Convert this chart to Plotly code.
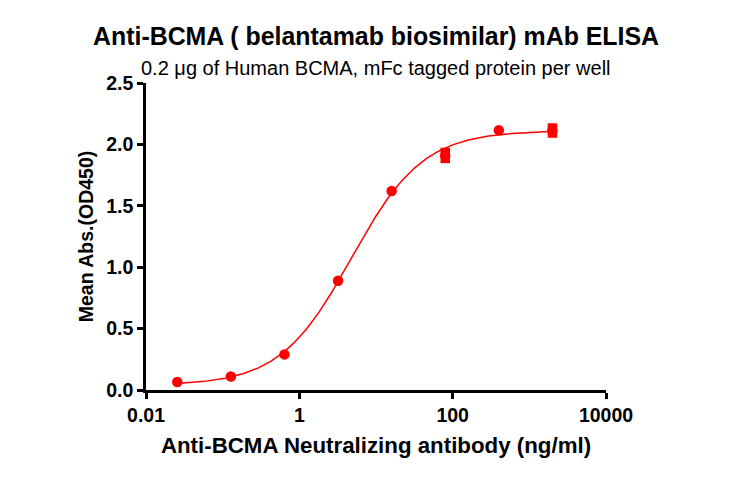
import numpy as np
import plotly.graph_objects as go

# Data (ng/ml, mean OD450 and SD of duplicates)
conc = [0.0256, 0.128, 0.64, 3.2, 16, 80, 400, 2000]
mean_od = [0.065, 0.11, 0.29, 0.89, 1.62, 1.91, 2.115, 2.113]
sd_od = [0, 0, 0, 0, 0, 0.063, 0, 0.059]
x_ticks = [0.01, 1, 100, 10000]
x_tick_labels = ["0.01", "1", "100", "10000"]
y_ticks = [0.0, 0.5, 1.0, 1.5, 2.0, 2.5]

# 4PL fit (grid search on EC50/Hill, linear least squares for bottom/top)
xs = np.array(conc)
ys = np.array(mean_od)
best = None
for logec in np.linspace(-1, 2, 301):
    for h in np.linspace(0.5, 2.5, 201):
        f = 1.0 / (1.0 + (10 ** logec / xs) ** h)
        A = np.vstack([np.ones_like(f), f]).T
        coef, *_ = np.linalg.lstsq(A, ys, rcond=None)
        sse = np.sum((A @ coef - ys) ** 2)
        if best is None or sse < best[0]:
            best = (sse, logec, h, coef)
_, logec, h, coef = best
xc = np.logspace(np.log10(conc[0]), np.log10(conc[-1]), 300)
yc = coef[0] + coef[1] / (1.0 + (10 ** logec / xc) ** h)

red = "#ff0000"
font = "Liberation Sans, Arial, sans-serif"

fig = go.Figure()
fig.add_trace(go.Scatter(x=xc, y=yc, mode="lines", line=dict(color=red, width=1.5),
                         hoverinfo="skip", showlegend=False))
fig.add_trace(go.Scatter(x=conc, y=mean_od, mode="markers",
                         marker=dict(color=red, size=10.5, symbol="circle"),
                         error_y=dict(type="data", array=sd_od, visible=True,
                                      color=red, thickness=9.5, width=0),
                         showlegend=False))

fig.update_layout(
    width=730, height=478,
    paper_bgcolor="white", plot_bgcolor="white",
    margin=dict(l=138, r=132, t=75, b=96),
    font=dict(family=font, color="black"),
)
fig.add_annotation(text="<b>Anti-BCMA ( belantamab biosimilar) mAb ELISA</b>",
                   xref="paper", yref="paper", x=0.5, y=1, yanchor="middle", yshift=47,
                   showarrow=False, xanchor="center",
                   font=dict(size=24.9, family=font, color="black"))
fig.add_annotation(text="0.2 μg of Human BCMA, mFc tagged protein per well",
                   xref="paper", yref="paper", x=0.5, y=1, yanchor="middle", yshift=15,
                   showarrow=False, xanchor="center",
                   font=dict(size=20, family=font, color="black"))

fig.update_xaxes(type="log", range=[-2, 4], tickvals=x_ticks,
                 ticktext=["<b>%s</b>" % s for s in x_tick_labels],
                 showline=True, linecolor="black", linewidth=2.5, showgrid=False, zeroline=False,
                 ticks="outside", ticklen=6, tickwidth=2.5, tickcolor="black",
                 tickfont=dict(size=19.5, family=font, color="black"),
                 title=dict(text="<b>Anti-BCMA Neutralizing antibody (ng/ml)</b>",
                            font=dict(size=22.3, family=font, color="black"), standoff=13))
fig.update_yaxes(range=[0, 2.5], tickvals=y_ticks,
                 ticktext=["<b>%.1f</b>" % v for v in y_ticks],
                 showline=True, linecolor="black", linewidth=2.5, showgrid=False, zeroline=False,
                 ticks="outside", ticklen=6, tickwidth=2.5, tickcolor="black",
                 tickfont=dict(size=19.5, family=font, color="black"),
                 title=dict(text="<b>Mean Abs.(OD450)</b>",
                            font=dict(size=19.5, family=font, color="black"), standoff=8))
fig.write_html("out.html")
